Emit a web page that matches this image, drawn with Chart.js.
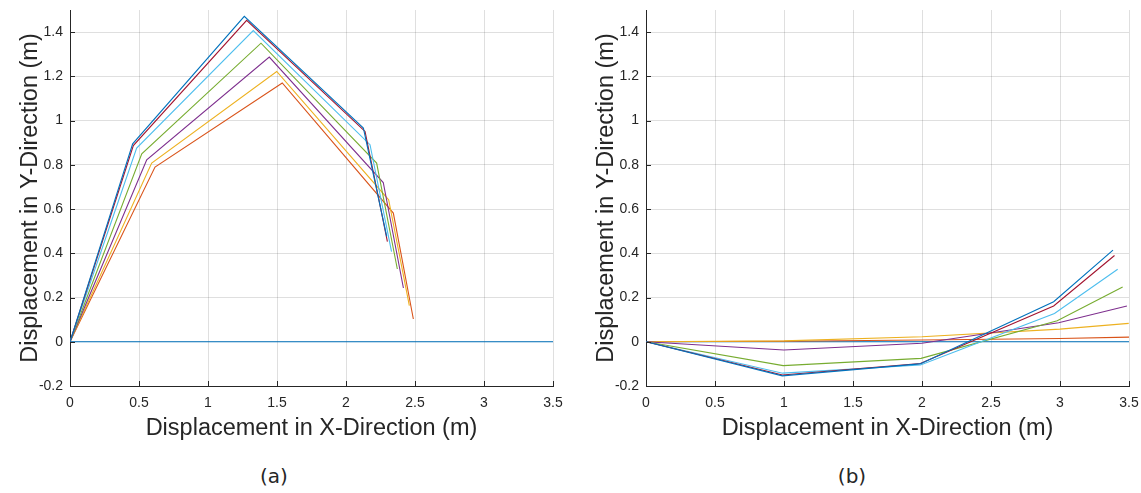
<!DOCTYPE html>
<html>
<head>
<meta charset="utf-8">
<script src="https://cdn.jsdelivr.net/npm/chart.js@4.4.0/dist/chart.umd.min.js"></script>
<style>
  body { margin: 0; background: #fff; width: 1141px; height: 493px; position: relative; overflow: hidden; }
  canvas { position: absolute; top: 0; }
  .cap { position: absolute; font-family: "DejaVu Sans", sans-serif; font-size: 20px; color: #262626; transform: translate(-50%, -50%); }
</style>
</head>
<body>
<canvas id="chartA" width="565" height="443" style="left:0px"></canvas>
<canvas id="chartB" width="565" height="443" style="left:576px"></canvas>
<div class="cap" style="left:274px; top:476px">(a)</div>
<div class="cap" style="left:852px; top:476px">(b)</div>
<script>
// tick values
const xTicks = [0, 0.5, 1, 1.5, 2, 2.5, 3, 3.5];
const yTicks = [-0.2, 0, 0.2, 0.4, 0.6, 0.8, 1, 1.2, 1.4];

// MATLAB colour order
const lineColors = ['#0072BD', '#D95319', '#EDB120', '#7E2F8E', '#77AC30', '#4DBEEE', '#A2142F', '#0072BD'];

// panel (a)
const a1x = [0, 1, 2, 3, 3.5],               a1y = [0, 0, 0, 0, 0];
const a2x = [0, 0.616, 1.538, 2.343, 2.488], a2y = [0, 0.790, 1.170, 0.582, 0.103];
const a3x = [0, 0.592, 1.498, 2.309, 2.459], a3y = [0, 0.808, 1.222, 0.642, 0.163];
const a4x = [0, 0.556, 1.444, 2.270, 2.416], a4y = [0, 0.823, 1.287, 0.720, 0.243];
const a5x = [0, 0.520, 1.384, 2.222, 2.372], a5y = [0, 0.850, 1.350, 0.808, 0.329];
const a6x = [0, 0.483, 1.328, 2.174, 2.330], a6y = [0, 0.876, 1.407, 0.891, 0.408];
const a7x = [0, 0.459, 1.280, 2.138, 2.300], a7y = [0, 0.887, 1.453, 0.951, 0.453];
const a8x = [0, 0.454, 1.263, 2.126, 2.295], a8y = [0, 0.895, 1.471, 0.966, 0.476];

// panel (b)
const b1x = [0, 1, 2, 3, 3.5],               b1y = [0, 0, 0, 0, 0];
const b2x = [0, 1.0, 2.0, 3.0, 3.5],         b2y = [0, 0.002, 0.008, 0.015, 0.021];
const b3x = [0, 1.0, 2.0, 2.999, 3.498],     b3y = [0, 0.004, 0.023, 0.057, 0.083];
const b4x = [0, 0.999, 1.999, 2.99, 3.485],  b4y = [0, -0.037, -0.007, 0.086, 0.162];
const b5x = [0, 0.994, 1.993, 2.98, 3.454],  b5y = [0, -0.108, -0.075, 0.095, 0.248];
const b6x = [0, 0.99, 1.989, 2.96, 3.418],   b6y = [0, -0.142, -0.105, 0.128, 0.328];
const b7x = [0, 0.989, 1.988, 2.954, 3.395], b7y = [0, -0.150, -0.098, 0.162, 0.390];
const b8x = [0, 0.988, 1.986, 2.954, 3.384], b8y = [0, -0.154, -0.100, 0.181, 0.414];

const seriesA = [[a1x, a1y], [a2x, a2y], [a3x, a3y], [a4x, a4y], [a5x, a5y], [a6x, a6y], [a7x, a7y], [a8x, a8y]];
const seriesB = [[b1x, b1y], [b2x, b2y], [b3x, b3y], [b4x, b4y], [b5x, b5y], [b6x, b6y], [b7x, b7y], [b8x, b8y]];

const textColor = '#262626';
const tickFont = { family: '"Liberation Sans", Arial, sans-serif', size: 14 };
const titleFont = { family: '"Liberation Sans", Arial, sans-serif', size: 23.5 };

// MATLAB style ticks pointing into the plot
const innerTicks = {
    id: 'innerTicks',
    afterDatasetsDraw(chart) {
        const ctx = chart.ctx;
        const xs = chart.scales.x, ys = chart.scales.y;
        const area = chart.chartArea;
        ctx.save();
        ctx.strokeStyle = textColor;
        ctx.lineWidth = 1;
        ctx.beginPath();
        xs.ticks.forEach(t => {
            const px = Math.round(xs.getPixelForValue(t.value)) + 0.5;
            ctx.moveTo(px, area.bottom);
            ctx.lineTo(px, area.bottom - 5);
        });
        ys.ticks.forEach(t => {
            const py = Math.round(ys.getPixelForValue(t.value)) + 0.5;
            ctx.moveTo(area.left, py);
            ctx.lineTo(area.left + 5, py);
        });
        ctx.stroke();
        ctx.restore();
    }
};

function makeDatasets(series) {
    return series.map((s, i) => ({
        data: s[0].map((x, k) => ({ x: x, y: s[1][k] })),
        borderColor: lineColors[i],
        backgroundColor: lineColors[i],
        borderWidth: 1.1,
        showLine: true,
        pointRadius: 0,
        order: 20 - i
    }));
}

function makeChart(id, series) {
    return new Chart(document.querySelector(id), {
        type: 'scatter',
        data: { datasets: makeDatasets(series) },
        options: {
            responsive: false,
            animation: false,
            devicePixelRatio: 1,
            layout: { padding: { left: 16, right: 12, top: 10, bottom: 0 } },
            plugins: { legend: { display: false }, tooltip: { enabled: false } },
            scales: {
                x: {
                    type: 'linear',
                    min: 0, max: 3.5,
                    afterBuildTicks: s => { s.ticks = xTicks.map(v => ({ value: v })); },
                    afterFit: s => { s.height = 57; s.paddingLeft = 0; s.paddingRight = 0; },
                    ticks: { color: textColor, font: tickFont, padding: 9, maxRotation: 0, callback: v => String(v) },
                    grid: { color: 'rgba(38,38,38,0.15)', drawTicks: false },
                    border: { display: true, color: textColor, width: 1 },
                    title: { display: true, text: 'Displacement in X-Direction (m)', color: textColor, font: titleFont, padding: 0 }
                },
                y: {
                    type: 'linear',
                    min: -0.2, max: 1.5,
                    afterBuildTicks: s => { s.ticks = yTicks.map(v => ({ value: v })); },
                    afterFit: s => { s.width = 54; s.paddingTop = 0; s.paddingBottom = 0; },
                    ticks: { color: textColor, font: tickFont, padding: 7, callback: v => String(v) },
                    grid: { color: 'rgba(38,38,38,0.15)', drawTicks: false },
                    border: { display: true, color: textColor, width: 1 },
                    title: { display: true, text: 'Displacement in Y-Direction (m)', color: textColor, font: titleFont, padding: 0 }
                }
            }
        },
        plugins: [innerTicks]
    });
}

var chartA = makeChart('#chartA', seriesA);
var chartB = makeChart('#chartB', seriesB);
</script>
</body>
</html>
